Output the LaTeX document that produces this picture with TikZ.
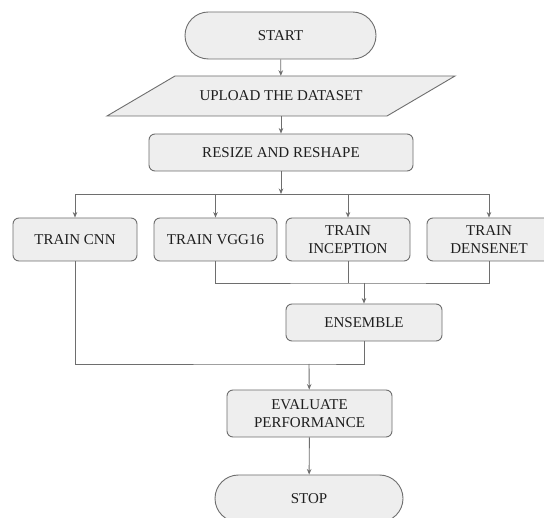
\documentclass[tikz,border=0pt]{standalone}
\usepackage{fontspec}
\setmainfont{Liberation Serif}
\usetikzlibrary{shapes.misc,arrows.meta,backgrounds}
\definecolor{boxfill}{HTML}{EEEEEE}
\definecolor{boxline}{HTML}{6E6E6E}
\definecolor{txt}{HTML}{1E1E1E}
\tikzset{
  base/.style={draw=boxline, fill=boxfill, line width=0.9pt, inner sep=0pt,
    text=txt, align=center, font=\fontsize{15}{18}\selectfont},
  procbox/.style={base, rectangle, rounded corners=6pt},
  termbox/.style={base, rounded rectangle},
  iobox/.style={rectangle, inner sep=0pt, text=txt, align=center,
    font=\fontsize{15}{18}\selectfont},
  conn/.style={draw=boxline, line width=0.9pt},
  arr/.style={conn, -{Stealth[length=5.5pt,width=4.5pt]}}
}
\begin{document}
\begin{tikzpicture}[x=1pt,y=-1pt]
\useasboundingbox (0,0) rectangle (544,518);
\clip (0,0) rectangle (544,518);
\fill[white] (0,0) rectangle (544,518);
% input/output parallelogram
\draw[base] (175,76) -- (455,76) -- (387,116) -- (107,116) -- cycle;

\node[termbox, minimum width=191pt, minimum height=47pt] (start) at (280.5,35.5) {START};
\node[iobox, minimum width=212pt, minimum height=40pt] (upload) at (281,96) {UPLOAD THE DATASET};
\node[procbox, minimum width=264pt, minimum height=37pt] (resize) at (281,152.5) {RESIZE AND RESHAPE};

\node[procbox, minimum width=124pt, minimum height=43pt] (cnn) at (75,239.5) {TRAIN CNN};
\node[procbox, minimum width=123pt, minimum height=43pt] (vgg) at (215.5,239.5) {TRAIN VGG16};
\node[procbox, minimum width=124pt, minimum height=43pt] (incep) at (348,239.5) {TRAIN\\INCEPTION};
\node[procbox, minimum width=124pt, minimum height=43pt] (dense) at (489,239.5) {TRAIN\\DENSENET};

\node[procbox, minimum width=156pt, minimum height=37pt] (ens) at (364,322.5) {ENSEMBLE};
\node[procbox, minimum width=165pt, minimum height=47pt] (eval) at (309.5,413.5) {EVALUATE\\PERFORMANCE};
\node[termbox, minimum width=188pt, minimum height=47pt] (stop) at (309,498.5) {STOP};

\coordinate (b1) at (281,194);
\coordinate (m1) at (364,283);
\coordinate (m2) at (309,364);

\draw[arr] (start) -- (upload);
\draw[arr] (upload) -- (resize);
\draw[arr] (resize) -- (b1);
\draw[arr] (b1) -| (cnn);
\draw[arr] (b1) -| (dense);
\draw[arr] (b1 -| vgg) -- (vgg);
\draw[arr] (b1 -| incep) -- (incep);

\draw[conn] (vgg.south) |- (m1) -| (dense.south);
\draw[conn] (incep.south) -- (incep.south |- m1);
\draw[arr] (m1) -- (ens);

\draw[conn] (cnn.south) |- (m2) -| (ens.south);
\draw[arr] (m2) -- (eval);
\draw[arr] (eval) -- (stop);
\end{tikzpicture}
\end{document}
